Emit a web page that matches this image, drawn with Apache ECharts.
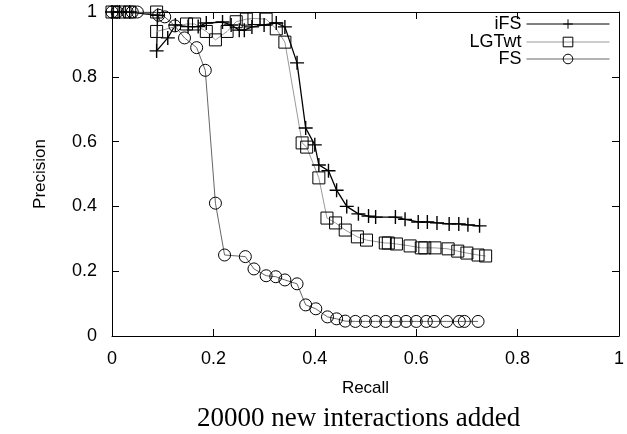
<!DOCTYPE html>
<html>
<head>
<meta charset="utf-8">
<script src="https://cdn.jsdelivr.net/npm/echarts@6/dist/echarts.min.js"></script>
<style>
  html, body { margin: 0; padding: 0; background: #fff; }
  #chart { width: 627px; height: 434px; }
</style>
</head>
<body>
<div id="chart"></div>
<script>
// recall / precision values
var ifsRecall = [0, 0.015, 0.035, 0.09, 0.088, 0.11, 0.125, 0.15, 0.17, 0.186, 0.218, 0.235, 0.251, 0.261, 0.276, 0.3, 0.324, 0.341, 0.365, 0.382, 0.4, 0.408, 0.427, 0.443, 0.463, 0.486, 0.506, 0.52, 0.559, 0.578, 0.604, 0.622, 0.641, 0.665, 0.684, 0.702, 0.725];
var ifsPrecision = [1, 1, 1, 0.99, 0.88, 0.92, 0.96, 0.955, 0.955, 0.966, 0.969, 0.96, 0.944, 0.944, 0.954, 0.96, 0.966, 0.954, 0.843, 0.642, 0.59, 0.528, 0.51, 0.45, 0.40, 0.377, 0.37, 0.367, 0.367, 0.36, 0.352, 0.352, 0.349, 0.346, 0.346, 0.343, 0.34];

var lgtRecall = [0, 0.015, 0.035, 0.088, 0.088, 0.147, 0.163, 0.186, 0.204, 0.227, 0.245, 0.265, 0.28, 0.304, 0.324, 0.341, 0.375, 0.384, 0.408, 0.424, 0.441, 0.46, 0.484, 0.502, 0.539, 0.545, 0.561, 0.588, 0.61, 0.617, 0.637, 0.663, 0.682, 0.7, 0.722, 0.737];
var lgtPrecision = [1, 1, 1, 1, 0.94, 0.963, 0.963, 0.94, 0.914, 0.94, 0.97, 0.978, 0.98, 0.978, 0.948, 0.907, 0.596, 0.583, 0.488, 0.364, 0.349, 0.327, 0.306, 0.296, 0.287, 0.287, 0.284, 0.278, 0.272, 0.272, 0.272, 0.269, 0.262, 0.256, 0.25, 0.247];

var fsRecall = [0, 0.01, 0.03, 0.04, 0.05, 0.092, 0.104, 0.124, 0.143, 0.167, 0.184, 0.204, 0.222, 0.263, 0.28, 0.304, 0.323, 0.341, 0.365, 0.382, 0.402, 0.425, 0.443, 0.46, 0.48, 0.5, 0.52, 0.54, 0.56, 0.58, 0.6, 0.62, 0.635, 0.66, 0.685, 0.695, 0.722];
var fsPrecision = [1, 1, 1, 1, 1, 0.99, 0.985, 0.957, 0.92, 0.89, 0.82, 0.41, 0.25, 0.245, 0.207, 0.186, 0.183, 0.173, 0.161, 0.096, 0.084, 0.059, 0.053, 0.046, 0.045, 0.045, 0.045, 0.045, 0.045, 0.045, 0.045, 0.045, 0.045, 0.045, 0.045, 0.045, 0.045];

var axisTicks = [0, 0.2, 0.4, 0.6, 0.8, 1];

function pairs(xs, ys) {
  return xs.map(function (x, i) { return [x, ys[i]]; });
}

var plusPath = "path://M4.5,0H5.5V4.5H10V5.5H5.5V10H4.5V5.5H0V4.5H4.5Z";
var sans = "Liberation Sans";

function valueAxis(pos, showLabels, margin) {
  return {
    type: "value",
    position: pos,
    min: axisTicks[0],
    max: axisTicks[axisTicks.length - 1],
    interval: axisTicks[1] - axisTicks[0],
    axisLine: { show: true, onZero: false, lineStyle: { color: "#000", width: 1 } },
    axisTick: { show: true, inside: true, length: 7, lineStyle: { color: "#000" } },
    axisLabel: { show: showLabels, color: "#000", fontFamily: sans, fontSize: 18, margin: margin },
    splitLine: { show: false }
  };
}

var xBottom = valueAxis("bottom", true, 14);
xBottom.name = "Recall";
xBottom.nameLocation = "middle";
xBottom.nameGap = 44;
xBottom.nameTextStyle = { color: "#000", fontFamily: sans, fontSize: 17 };
var xTop = valueAxis("top", false, 8);

var yLeft = valueAxis("left", true, 15);
yLeft.name = "Precision";
yLeft.nameLocation = "middle";
yLeft.nameGap = 63;
yLeft.nameTextStyle = { color: "#000", fontFamily: sans, fontSize: 17 };
var yRight = valueAxis("right", false, 8);

function legendRow(name, top) {
  return {
    data: [name],
    right: 17,
    top: top,
    padding: 0,
    align: "right",
    itemWidth: 83,
    itemHeight: 12,
    itemStyle: { borderWidth: 1 },
    lineStyle: { width: 1 },
    textStyle: { color: "#000", fontFamily: sans, fontSize: 18 },
    selectedMode: false
  };
}

var chart = echarts.init(document.getElementById("chart"));
chart.setOption({
  animation: false,
  backgroundColor: "#fff",
  title: {
    text: "20000 new interactions added",
    left: 197,
    top: 405,
    padding: 0,
    textStyle: { color: "#000", fontFamily: "Liberation Serif", fontSize: 27, fontWeight: "normal" }
  },
  legend: [legendRow("iFS", 15), legendRow("LGTwt", 33), legendRow("FS", 50)],
  grid: { left: 112, right: 5, top: 12, bottom: 98, containLabel: false },
  xAxis: [xBottom, xTop],
  yAxis: [yLeft, yRight],
  series: [
    {
      name: "iFS",
      type: "line",
      data: pairs(ifsRecall, ifsPrecision),
      symbol: plusPath,
      symbolSize: 14,
      showAllSymbol: true,
      itemStyle: { color: "#000" },
      lineStyle: { color: "#000", width: 1.3 }
    },
    {
      name: "LGTwt",
      type: "line",
      data: pairs(lgtRecall, lgtPrecision),
      symbol: "rect",
      symbolSize: 12,
      showAllSymbol: true,
      itemStyle: { color: "rgba(0,0,0,0)", borderColor: "#000", borderWidth: 1 },
      lineStyle: { color: "#999", width: 1 }
    },
    {
      name: "FS",
      type: "line",
      data: pairs(fsRecall, fsPrecision),
      symbol: "circle",
      symbolSize: 12,
      showAllSymbol: true,
      itemStyle: { color: "rgba(0,0,0,0)", borderColor: "#000", borderWidth: 1 },
      lineStyle: { color: "#666", width: 1 }
    }
  ]
});
</script>
</body>
</html>
